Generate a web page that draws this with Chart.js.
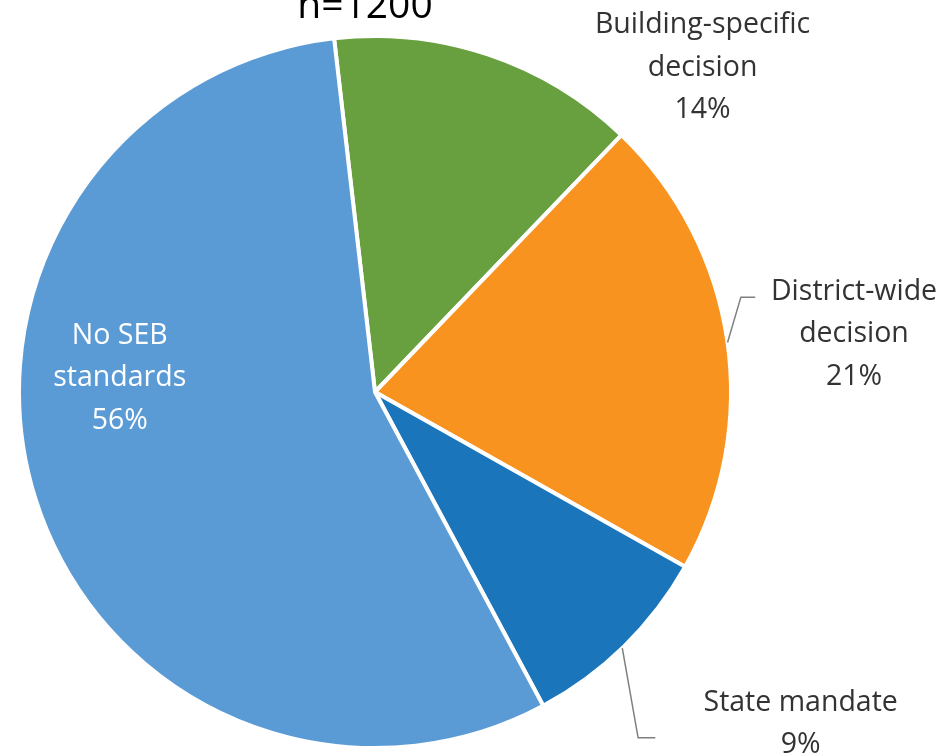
<!DOCTYPE html>
<html>
<head>
<meta charset="utf-8">
<script src="https://cdn.jsdelivr.net/npm/chart.js@4/dist/chart.umd.min.js"></script>
<style>
  body { margin: 0; background: #fff; }
  canvas { display: block; }
</style>
</head>
<body>
<canvas id="pie" width="949" height="756"></canvas>
<script>
const categories = ['Building-specific decision', 'District-wide decision', 'State mandate', 'No SEB standards'];
const shares = [14, 21, 9, 56];
const labelLines = [
  ['Building-specific', 'decision', '14%'],
  ['District-wide', 'decision', '21%'],
  ['State mandate', '9%'],
  ['No SEB', 'standards', '56%']
];
const sampleTitle = 'n=1200';

const sliceColors = ['#689F3F', '#F7931E', '#1B75BB', '#5B9BD5'];
const textColors = ['#333333', '#333333', '#333333', '#ffffff'];
// label centres relative to pie centre, in units of radius
const labelPos = [[0.915, -0.906], [1.338, -0.162], [1.189, 0.927], [-0.713, -0.039]];
// leader lines: start on the rim at an angle (deg from 12 o'clock), then points in radius units
const leaders = [null, { angle: 82, pts: [[1.022, -0.265], [1.062, -0.265]] }, { angle: 136, pts: [[0.735, 0.966], [0.783, 0.966]] }, null];

const labelPlugin = {
  id: 'pieLabels',
  afterDatasetsDraw(chart) {
    const ctx = chart.ctx;
    const arcs = chart.getDatasetMeta(0).data;
    const cx = arcs[0].x, cy = arcs[0].y, r = arcs[0].outerRadius + 2;
    ctx.save();
    ctx.strokeStyle = '#7f7f7f';
    ctx.lineWidth = 1.5;
    leaders.forEach(l => {
      if (!l) return;
      const a = (l.angle - 90) * Math.PI / 180;
      ctx.beginPath();
      ctx.moveTo(cx + Math.cos(a) * (r - 2), cy + Math.sin(a) * (r - 2));
      l.pts.forEach(p => ctx.lineTo(cx + p[0] * r, cy + p[1] * r));
      ctx.stroke();
    });
    ctx.font = '28.5px "Open Sans"';
    ctx.textAlign = 'center';
    ctx.textBaseline = 'middle';
    const lh = 42.5;
    labelLines.forEach((lines, i) => {
      const x = cx + labelPos[i][0] * r;
      const y = cy + labelPos[i][1] * r;
      ctx.fillStyle = textColors[i];
      const top = y - (lines.length - 1) * lh / 2;
      lines.forEach((t, j) => ctx.fillText(t, x, top + j * lh));
    });
    ctx.font = '39px "Open Sans"';
    ctx.fillStyle = '#000';
    ctx.textBaseline = 'alphabetic';
    ctx.fillText(sampleTitle, cx - 10, 18);
    ctx.restore();
  }
};

new Chart(document.getElementById('pie').getContext('2d'), {
  type: 'pie',
  data: {
    labels: categories,
    datasets: [{
      data: shares,
      backgroundColor: sliceColors,
      borderColor: '#ffffff',
      borderWidth: 4
    }]
  },
  options: {
    responsive: false,
    animation: false,
    rotation: -6.6,
    layout: { padding: { left: 17, right: 216, top: 34, bottom: 6 } },
    plugins: {
      legend: { display: false },
      tooltip: { enabled: false },
      title: { display: false }
    }
  },
  plugins: [labelPlugin]
});
</script>
</body>
</html>
